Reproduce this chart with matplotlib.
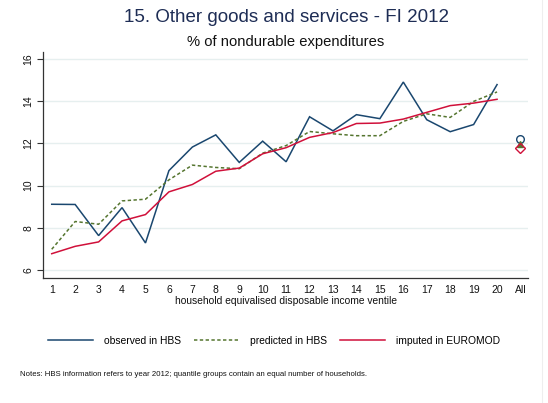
import matplotlib
matplotlib.use("Agg")
import matplotlib.pyplot as plt
from matplotlib.lines import Line2D
import numpy as np

plt.rcParams["font.family"] = ["Liberation Sans", "DejaVu Sans"]

# Ventile categories and the overall "All" group
ventiles = [str(i) for i in range(1, 21)]
all_label = "All"

observed_hbs = [9.11, 9.10, 7.62, 8.95, 7.27, 10.71, 11.83, 12.41, 11.10, 12.11,
                11.13, 13.27, 12.60, 13.37, 13.18, 14.92, 13.13, 12.56, 12.90, 14.80]
predicted_hbs = [6.97, 8.29, 8.16, 9.27, 9.35, 10.27, 10.97, 10.86, 10.80, 11.54,
                 11.90, 12.57, 12.46, 12.37, 12.37, 13.05, 13.41, 13.24, 14.00, 14.45]
imputed_euromod = [6.76, 7.11, 7.32, 8.32, 8.62, 9.70, 10.05, 10.68, 10.83, 11.51,
                   11.80, 12.29, 12.52, 12.95, 12.97, 13.16, 13.48, 13.80, 13.92, 14.10]

all_observed = 12.21
all_predicted = 11.96
all_imputed = 11.78

y_ticks = [6, 8, 10, 12, 14, 16]

c_obs = "#1a476f"
c_pred = "#55752f"
c_imp = "#d0103a"

fig = plt.figure(figsize=(5.48, 4.03), dpi=100)
fig.patch.set_facecolor("white")
ax = fig.add_axes([0.079, 0.311, 0.8845, 0.560])

x = np.arange(1, len(ventiles) + 1)
ax.plot(x, observed_hbs, color=c_obs, lw=1.1, solid_joinstyle="miter")
ax.plot(x, predicted_hbs, color=c_pred, lw=1.1, ls=(0, (2.2, 1.6)))
ax.plot(x, imputed_euromod, color=c_imp, lw=1.1)

x_all = len(ventiles) + 1
ax.plot([x_all], [all_observed], marker="o", ms=5.5, mfc="none", mec=c_obs, mew=1.0, ls="none")
ax.plot([x_all], [all_predicted], marker="^", ms=4, mfc=c_pred, mec=c_pred, ls="none")
ax.plot([x_all], [all_imputed], marker="D", ms=5.5, mfc="none", mec=c_imp, mew=1.0, ls="none")

ax.set_xlim(0.64, 21.32)
ax.set_ylim(5.62, 16.35)
ax.set_xticks(list(x) + [x_all])
ax.set_xticklabels(ventiles + [all_label], fontsize=7.5, color="#111111")
ax.set_yticks(y_ticks)
ax.set_yticklabels([str(v) for v in y_ticks], fontsize=7.5, rotation=90, va="center", color="#111111")
ax.tick_params(axis="x", length=0, pad=5)
ax.tick_params(axis="y", length=4, width=0.8, color="#333333", pad=3)
ax.grid(axis="y", color="#e6efef", lw=1.0)
ax.set_axisbelow(True)
for s in ("top", "right"):
    ax.spines[s].set_visible(False)
for s in ("left", "bottom"):
    ax.spines[s].set_color("#333333")
    ax.spines[s].set_linewidth(0.9)

ax.set_xlabel("household equivalised disposable income ventile", fontsize=7.4, labelpad=1, color="#111111")

fig.text(0.522, 0.957, "15. Other goods and services - FI 2012", ha="center", va="center",
         fontsize=13.5, color="#1e2d55")
fig.text(0.522, 0.895, "% of nondurable expenditures", ha="center", va="center",
         fontsize=10.6, color="#111111")

handles = [Line2D([], [], color=c_obs, lw=1.1),
           Line2D([], [], color=c_pred, lw=1.1, ls=(0, (2.2, 1.6))),
           Line2D([], [], color=c_imp, lw=1.1)]
labels = ["observed in HBS", "predicted in HBS", "imputed in EUROMOD"]
fig.legend(handles, labels, loc="center", bbox_to_anchor=(0.5, 0.154), ncol=3, frameon=False,
           fontsize=7.4, handlelength=4.4, handletextpad=1.07, columnspacing=1.26)

fig.text(0.036, 0.070, "Notes: HBS information refers to year 2012; quantile groups contain an equal number of households.",
         ha="left", va="center", fontsize=5.6, color="#111111")

fig.add_artist(Line2D([0.989, 0.989], [0.0, 1.0], color="#eeeeee", lw=0.8))

fig.savefig("out.png", dpi=100, facecolor="white")
